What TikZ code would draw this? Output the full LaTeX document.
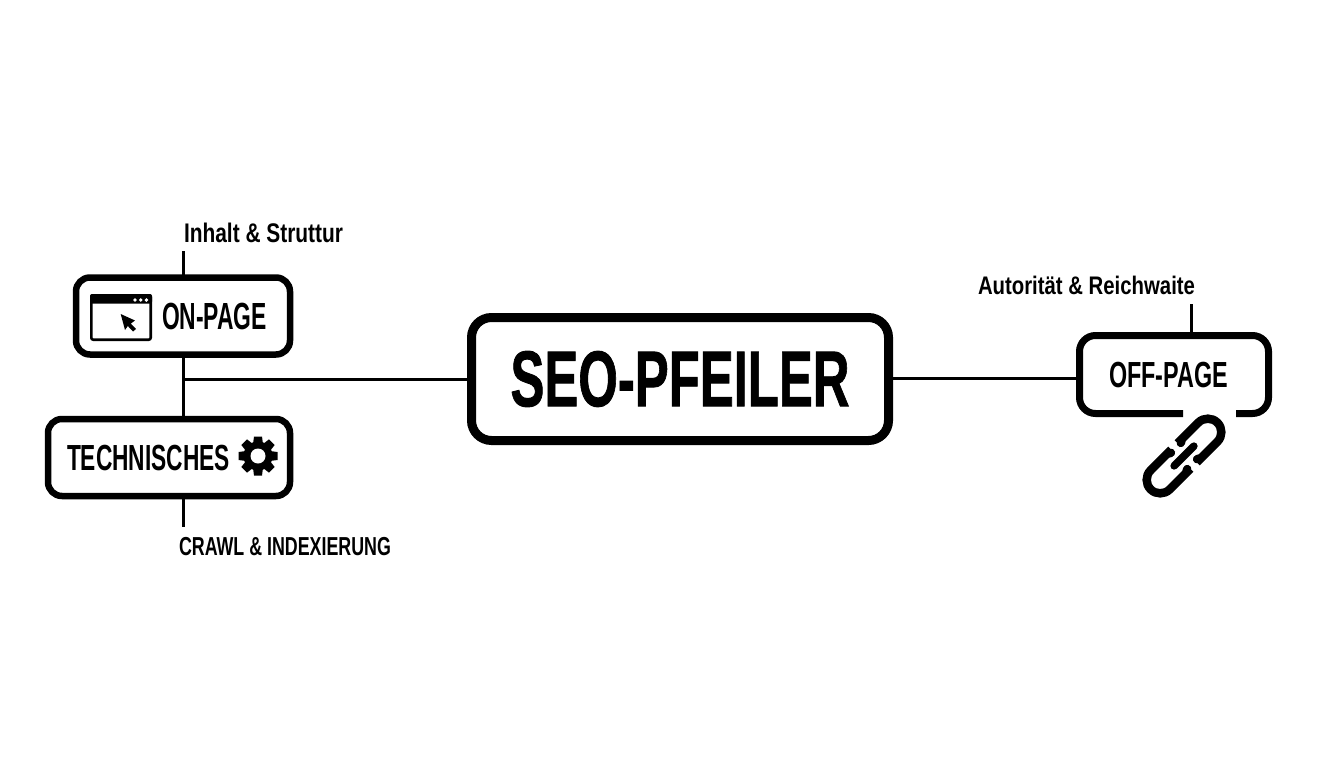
\documentclass[tikz,border=0pt]{standalone}
\usepackage{graphicx}
\usepackage{fontspec}
\setmainfont{Liberation Sans}[BoldFont={Liberation Sans Bold}]
\newfontfamily\heavyfont[FakeBold=1.2]{Liberation Sans Bold}
\newcommand\fitlab[3]{{\fontsize{#2pt}{#2pt}\selectfont\bfseries\resizebox{#1pt}{\height}{#3}}}
\newcommand\fitheavy[3]{{\fontsize{#2pt}{#2pt}\selectfont\heavyfont\resizebox{#1pt}{\height}{#3}}}
\tikzset{
  pillar/.style={draw=black,fill=white,rounded corners=14pt,line width=6.5pt,inner sep=0pt,outer sep=0pt},
  mainbox/.style={draw=black,fill=white,rounded corners=20pt,line width=9pt,inner sep=0pt,outer sep=0pt},
  conn/.style={draw=black,line width=3pt},
  lab/.style={inner sep=0pt,outer sep=0pt,anchor=base west,text=black},
  linkpart/.style={draw=black,line width=8.5pt,line cap=round,rounded corners=13.5pt}
}
\begin{document}
\begin{tikzpicture}[x=1pt,y=-1pt]
\useasboundingbox[fill=white] (0,0) rectangle (1344,768);
% boxes
\node[mainbox,minimum width=417pt,minimum height=123pt] (seo) at (680,379) {\fitheavy{339}{79}{SEO-PFEILER}};
\node[pillar,minimum width=214pt,minimum height=77pt] (onpage) at (183,316) {};
\node[pillar,minimum width=242pt,minimum height=77pt] (tech) at (169,457.5) {};
\node[minimum width=189pt,minimum height=78pt,inner sep=0pt,outer sep=0pt] (off) at (1174,374.5) {};
\draw[black,line width=7pt,rounded corners=16pt] (1183,413.5) -- (1079.5,413.5) -- (1079.5,335.5) -- (1268.5,335.5) -- (1268.5,413.5) -- (1236,413.5);
% box texts
\node[lab] (ontxt) at (162,329) {\fitlab{105}{37.8}{ON-PAGE}};
\node[lab] (techtxt) at (67,470) {\fitlab{163}{36.3}{TECHNISCHES}};
\node[lab] (offtxt) at (1109,387) {\fitlab{119}{36.3}{OFF-PAGE}};
% outer labels
\node[lab] (inhalt) at (184,242) {\fitlab{159}{26.9}{Inhalt \& Struttur}};
\node[lab] (crawl) at (179,555) {\fitlab{212}{26}{CRAWL \& INDEXIERUNG}};
\node[lab] (autor) at (978,294) {\fitlab{217}{25.4}{Autorität \& Reichwaite}};
% connector coordinates
\coordinate (ontop) at (183.5,251);
\coordinate (techbot) at (183.5,527);
\coordinate (offtop) at (1191,304);
\coordinate (junc) at (183.5,379.5);
\coordinate (offin) at (1076.5,378);
% connectors
\draw[conn] (ontop) -- (ontop |- onpage.north);
\draw[conn] (ontop |- onpage.south) -- (ontop |- tech.north);
\draw[conn] (junc) -- (junc -| seo.west);
\draw[conn] (ontop |- tech.south) -- (techbot);
\draw[conn] (offin -| seo.east) -- (offin);
\draw[conn] (offtop) -- (offtop |- off.north);
% window icon
\draw[black,line width=2.6pt,rounded corners=2pt] (91.3,295.3) rectangle (150.7,339.7);
\fill[black,rounded corners=2pt] (90,294) rectangle (152,303.5);
\fill[white] (135,300) circle (1.9pt) (140.8,300) circle (1.9pt) (146.4,300) circle (1.9pt);
\fill[black] (120.7,314) -- (135,320.5) -- (130.8,323.6) -- (136,329) -- (133,331.5) -- (127.8,326) -- (125,330) -- cycle;
% gear
\foreach \a in {0,45,...,315}
  \fill[black,rotate around={\a:(258,456)}] (254,436.5) -- (262,436.5) -- (263.2,446) -- (252.8,446) -- cycle;
\fill[black] (258,456) circle (14.5pt);
\fill[white] (258,456) circle (7.5pt);
% chain
\begin{scope}[shift={(1184,456)},x={(.7071pt,.7071pt)},y={(.7071pt,-.7071pt)}]
  \draw[linkpart] (7,-11.5) .. controls (9,-13) and (13,-13.5) .. (18,-13.5) -- (47.2,-13.5) -- (47.2,13.5) -- (18,13.5) .. controls (13,13.5) and (9,13) .. (7,11.5);
  \draw[linkpart] (-7,-11.5) .. controls (-9,-13) and (-13,-13.5) .. (-18,-13.5) -- (-47.2,-13.5) -- (-47.2,13.5) -- (-18,13.5) .. controls (-13,13.5) and (-9,13) .. (-7,11.5);
  \draw[black,line width=7.5pt,line cap=round] (-14,0) -- (14,0);
\end{scope}
\end{tikzpicture}
\end{document}
